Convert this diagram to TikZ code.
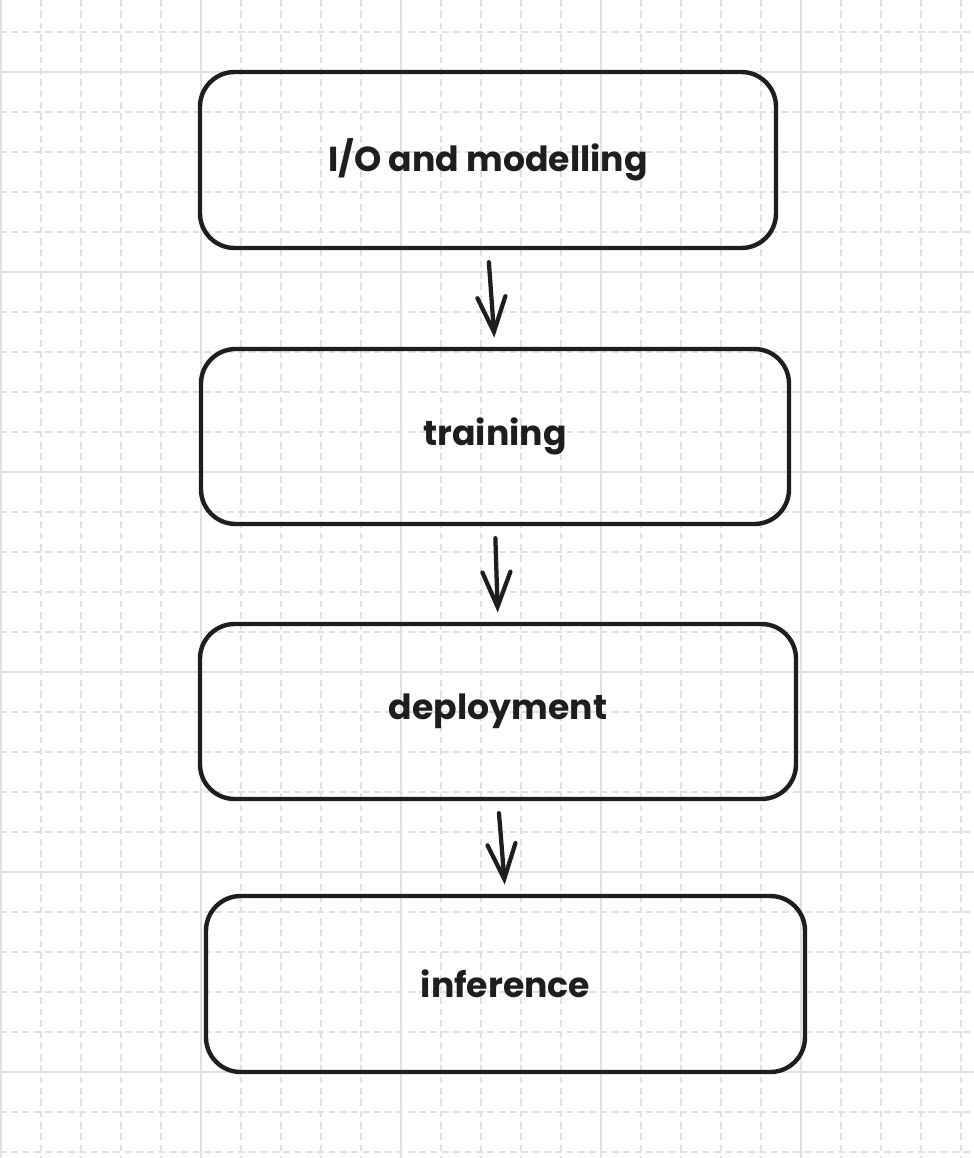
\documentclass[tikz,border=0pt]{standalone}
\usepackage{fontspec}
\setmainfont{Poppins}
\usetikzlibrary{arrows.meta}
\definecolor{ink}{HTML}{1E1E1E}
\definecolor{gridc}{HTML}{E0E0E0}
\tikzset{
  minorgrid/.style={draw=gridc, line width=1.2pt, dash pattern=on 5pt off 3.5pt},
  majorgrid/.style={draw=gridc, line width=1.4pt},
  stagebox/.style={draw=ink, line width=3.3pt, rounded corners=26pt, fill=none,
    font=\fontsize{26}{30}\selectfont\bfseries, text=ink, inner sep=0pt},
  flow/.style={draw=ink, line width=3.2pt, line cap=round,
    -{Straight Barb[length=26pt,width=21pt,line cap=round]}, shorten <=9pt, shorten >=7pt}
}
\begin{document}
\begin{tikzpicture}[x=0.75pt,y=-0.75pt]
\useasboundingbox (0,0) rectangle (974,1158);
\fill[white] (0,0) rectangle (974,1158);
% grid
\foreach \x in {41,81,121,161,241,281,321,361,441,481,521,561,641,681,721,761,841,881,921,961}
  \draw[minorgrid] (\x,0) -- (\x,1158);
\foreach \y in {32,112,152,192,232,312,352,392,432,512,552,592,632,712,752,792,832,912,952,992,1032,1112,1152}
  \draw[minorgrid] (0,\y) -- (974,\y);
\foreach \x in {1,201,401,601,801}
  \draw[majorgrid] (\x,0) -- (\x,1158);
\foreach \y in {72,272,472,672,872,1072}
  \draw[majorgrid] (0,\y) -- (974,\y);
% boxes
\node[stagebox, minimum width=432pt, minimum height=132pt] (io) at (488,160) {I/O and modelling};
\node[stagebox, minimum width=441pt, minimum height=131.25pt] (train) at (495,436.5) {training};
\node[stagebox, minimum width=447pt, minimum height=131.25pt] (deploy) at (498,711.5) {deployment};
\node[stagebox, minimum width=449.25pt, minimum height=132pt] (infer) at (505.5,984) {inference};
% arrows
\draw[flow] (io.south) -- (train.north);
\draw[flow] (train.south) -- (deploy.north);
\draw[flow] (deploy.south) -- (infer.north);
\end{tikzpicture}
\end{document}
